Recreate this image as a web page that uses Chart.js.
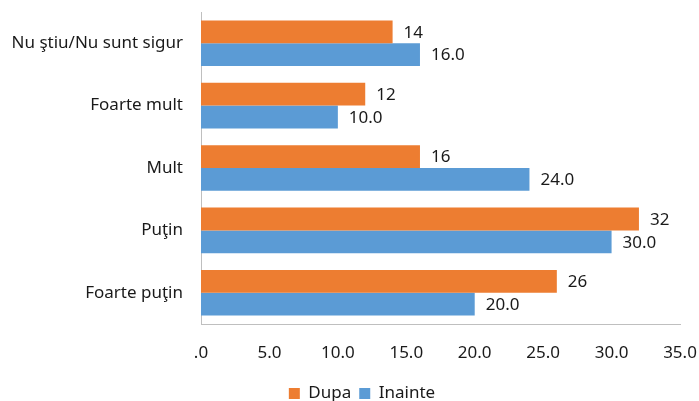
<!DOCTYPE html>
<html>
<head>
<meta charset="utf-8">
<script src="https://cdn.jsdelivr.net/npm/chart.js@4/dist/chart.umd.min.js"></script>
<style>
  html, body { margin: 0; padding: 0; background: #ffffff; }
  #wrap { width: 699px; height: 401px; }
</style>
</head>
<body>
<div id="wrap"><canvas id="c" width="699" height="401"></canvas></div>
<script>
// Response categories, top to bottom
const categories = ['Nu ştiu/Nu sunt sigur', 'Foarte mult', 'Mult', 'Puţin', 'Foarte puţin'];
// Share of answers after and before
const dupa = [14, 12, 16, 32, 26];
const inainte = [16.0, 10.0, 24.0, 30.0, 20.0];
const seriesNames = ['Dupa', 'Inainte'];
// Value axis range
const axisMin = 0, axisMax = 35, axisStep = 5;

const FONT = 'Noto Sans';
const FONT_SIZE = 17;
const TEXT = '#1a1a1a';

// Writes each bar's value just past its end
const valueLabels = {
  id: 'valueLabels',
  afterDatasetsDraw(chart) {
    const ctx = chart.ctx;
    ctx.save();
    ctx.font = FONT_SIZE + 'px "' + FONT + '"';
    ctx.fillStyle = TEXT;
    ctx.textAlign = 'left';
    ctx.textBaseline = 'middle';
    chart.data.datasets.forEach((ds, di) => {
      const meta = chart.getDatasetMeta(di);
      meta.data.forEach((el, i) => {
        const v = ds.data[i];
        const txt = di === 0 ? String(Math.round(v)) : v.toFixed(1);
        ctx.fillText(txt, el.x + 11, el.y + 1);
      });
    });
    ctx.restore();
  }
};

// Nudges the legend row a little to the right of the canvas centre
const legendShift = {
  id: 'legendShift',
  afterLayout(chart) {
    const lg = chart.legend;
    if (lg) { lg.left += 22; lg.right += 22; }
  }
};

// Keep the plot edges fixed: no extra room reserved for overhanging tick labels
function noEdgePadding(scale) {
  scale.paddingLeft = 0;
  scale.paddingRight = 0;
  scale.paddingTop = 0;
  scale.paddingBottom = 0;
}

new Chart(document.getElementById('c'), {
  type: 'bar',
  data: {
    labels: categories,
    datasets: [
      { label: seriesNames[0], data: dupa, backgroundColor: '#ED7D31', borderWidth: 0 },
      { label: seriesNames[1], data: inainte, backgroundColor: '#5B9BD5', borderWidth: 0 }
    ]
  },
  options: {
    indexAxis: 'y',
    responsive: false,
    animation: false,
    layout: { padding: { left: 0, right: 19, top: 12, bottom: -11 } },
    datasets: { bar: { categoryPercentage: 0.73, barPercentage: 1.0 } },
    scales: {
      x: {
        min: axisMin, max: axisMax,
        grid: { display: false, drawTicks: false },
        border: { display: true, color: '#bfbfbf', width: 1 },
        ticks: {
          stepSize: axisStep,
          padding: 19,
          color: TEXT,
          font: { family: FONT, size: FONT_SIZE },
          maxRotation: 0,
          callback: (v) => v === 0 ? '.0' : Number(v).toFixed(1)
        },
        afterFit(scale) { scale.height = 53; noEdgePadding(scale); }
      },
      y: {
        grid: { display: false, drawTicks: false },
        border: { display: true, color: '#bfbfbf', width: 1 },
        ticks: {
          padding: 18,
          color: TEXT,
          font: { family: FONT, size: FONT_SIZE }
        },
        afterFit(scale) { scale.width = 201; noEdgePadding(scale); }
      }
    },
    plugins: {
      legend: {
        position: 'bottom',
        labels: {
          boxWidth: 11, boxHeight: 11,
          padding: 8,
          color: TEXT,
          font: { family: FONT, size: FONT_SIZE }
        }
      },
      tooltip: { enabled: false }
    }
  },
  plugins: [valueLabels, legendShift]
});
</script>
</body>
</html>
